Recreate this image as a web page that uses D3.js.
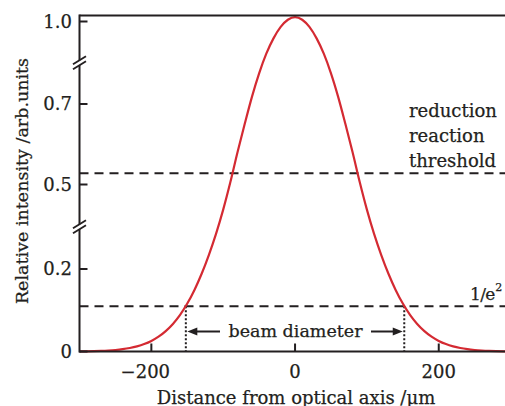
<!DOCTYPE html>
<html><head><meta charset="utf-8">
<script src="https://cdn.jsdelivr.net/npm/d3@7"></script>
<style>
body{margin:0;background:#fff}
svg{display:block}
text{font-family:"DejaVu Serif",serif;fill:#231f20;stroke:#231f20;stroke-width:0.25}
</style></head><body>
<script>
// ---- data ----
const xTicks = [-200, 0, 200];
const xTickLabels = ["\u2212200", "0", "200"];
const yTicks = [0, 0.2, 0.5, 0.7, 1.0];
const yTickLabels = ["0", "0.2", "0.5", "0.7", "1.0"];
const curveX = [-300, -290, -280, -270, -260, -250, -240, -230, -220, -210, -200, -190, -180, -170, -160, -150, -140, -130, -120, -110,
                -100, -90, -80, -70, -60, -50, -40, -30, -20, -10, 0,
                10, 20, 30, 40, 50, 60, 70, 80, 90, 100,
                110, 120, 130, 140, 150, 160, 170, 180, 190, 200, 210, 220, 230, 240, 250, 260, 270, 280, 290, 300];
const curveY = [0.0003, 0.0005, 0.0009, 0.0015, 0.0024, 0.0037, 0.0056, 0.0084, 0.0124, 0.0180, 0.0257, 0.0360, 0.0495, 0.0669, 0.0890, 0.1162, 0.1493, 0.1884, 0.2495, 0.3246,
                0.4107, 0.5060, 0.5806, 0.6508, 0.7260, 0.8116, 0.8829, 0.9386, 0.9802, 1.0058, 1.0145,
                1.0058, 0.9802, 0.9386, 0.8829, 0.8116, 0.7260, 0.6508, 0.5806, 0.5060, 0.4107,
                0.3246, 0.2495, 0.1884, 0.1493, 0.1162, 0.0890, 0.0669, 0.0495, 0.0360, 0.0257, 0.0180, 0.0124, 0.0084, 0.0056, 0.0037, 0.0024, 0.0015, 0.0009, 0.0005, 0.0003];
const thresholdLevel = 0.528;
const e2Level = 0.110;
const beamEdges = [-152, 152];
const yBreaks = [[0.2, 0.5], [0.7, 1.0]];
const frameTopValue = 1.02;

// ---- layout ----
const W = 505, H = 406;
const svg = d3.select("body").append("svg").attr("width", W).attr("height", H);
const x = d3.scaleLinear().domain([-300, 300]).range([79.5, 510.6]);
const y = d3.scaleLinear().domain([0, 0.2, 0.5, 0.7, 1.0, 1.1]).range([351.5, 269, 184.5, 104, 21.5, -8.5]);
const ink = "#231f20";
const x0 = x.range()[0];

// dashed reference lines
[thresholdLevel, e2Level].forEach(v => {
  svg.append("line").attr("x1", x0).attr("x2", W).attr("y1", y(v)).attr("y2", y(v))
    .attr("stroke", ink).attr("stroke-width", 2).attr("stroke-dasharray", "9,6");
});

// dotted beam edges
beamEdges.forEach(v => {
  svg.append("line").attr("x1", x(v)).attr("x2", x(v)).attr("y1", y(e2Level)).attr("y2", y(0))
    .attr("stroke", ink).attr("stroke-width", 2).attr("stroke-dasharray", "2,2");
});

// curve
const line = d3.line().x((d, i) => x(curveX[i])).y((d, i) => y(curveY[i])).curve(d3.curveMonotoneX);
svg.append("path").datum(curveY).attr("d", line).attr("fill", "none")
  .attr("stroke", "#d42a32").attr("stroke-width", 2.2);

// frame: bottom axis, top line, left axis
svg.append("line").attr("x1", x0).attr("x2", W).attr("y1", y(0)).attr("y2", y(0)).attr("stroke", ink).attr("stroke-width", 2);
svg.append("line").attr("x1", x0).attr("x2", W).attr("y1", y(frameTopValue)).attr("y2", y(frameTopValue)).attr("stroke", ink).attr("stroke-width", 2);
svg.append("line").attr("x1", x0).attr("x2", x0).attr("y1", y(0) + 1).attr("y2", y(frameTopValue) - 1).attr("stroke", ink).attr("stroke-width", 2);

// axis breaks
yBreaks.forEach(([a, b]) => {
  const yb = (y(a) + y(b)) / 2;
  svg.append("rect").attr("x", x0 - 3).attr("y", yb - 2.5).attr("width", 6).attr("height", 5).attr("fill", "#fff");
  [-2.6, 2.6].forEach(off => {
    svg.append("line").attr("x1", x0 - 6.5).attr("y1", yb + off + 4).attr("x2", x0 + 6.5).attr("y2", yb + off - 4)
      .attr("stroke", ink).attr("stroke-width", 1.8);
  });
});

// y ticks + labels
yTicks.forEach((v, i) => {
  svg.append("line").attr("x1", x0).attr("x2", x0 + 8).attr("y1", y(v)).attr("y2", y(v)).attr("stroke", ink).attr("stroke-width", 2);
  svg.append("text").attr("x", 72).attr("y", y(v)).attr("dy", "0.36em").attr("text-anchor", "end")
    .attr("font-size", 18).text(yTickLabels[i]);
});
// x ticks + labels
xTicks.forEach((v, i) => {
  svg.append("line").attr("x1", x(v)).attr("x2", x(v)).attr("y1", y(0)).attr("y2", y(0) - 8).attr("stroke", ink).attr("stroke-width", 2);
  svg.append("text").attr("x", x(v) - (v < 0 ? 6 : 0)).attr("y", 378).attr("text-anchor", "middle")
    .attr("font-size", 18).text(xTickLabels[i]);
});

// axis titles
svg.append("text").attr("x", 296).attr("y", 403.5).attr("text-anchor", "middle").attr("font-size", 18)
  .text("Distance from optical axis /\u03bcm");
svg.append("text").attr("transform", "translate(28,181) rotate(-90)").attr("text-anchor", "middle").attr("font-size", 17.5)
  .text("Relative intensity /arb.units");

// annotations
["reduction", "reaction", "threshold"].forEach((s, i) => {
  svg.append("text").attr("x", 409).attr("y", 116.5 + i * 25).attr("font-size", 18).text(s);
});
const e2 = svg.append("text").attr("x", 470).attr("y", 300).attr("font-size", 17).attr("letter-spacing", -0.6);
e2.append("tspan").text("1/e");
e2.append("tspan").attr("font-size", 11).attr("dy", -9).attr("dx", 0.5).text("2");

// beam diameter label and arrows
const ay = 331.5;
svg.append("text").attr("x", 295.5).attr("y", 337).attr("text-anchor", "middle").attr("font-size", 17.5).text("beam diameter");
function arrow(xFrom, xTo) {
  const dir = Math.sign(xTo - xFrom);
  svg.append("line").attr("x1", xFrom).attr("x2", xTo - dir * 7).attr("y1", ay).attr("y2", ay).attr("stroke", ink).attr("stroke-width", 2);
  svg.append("path").attr("d", `M${xTo},${ay} L${xTo - dir * 10},${ay - 4} L${xTo - dir * 10},${ay + 4} Z`).attr("fill", ink);
}
arrow(220, x(beamEdges[0]) + 1.5);
arrow(371, x(beamEdges[1]) - 1.5);
</script>
</body></html>
